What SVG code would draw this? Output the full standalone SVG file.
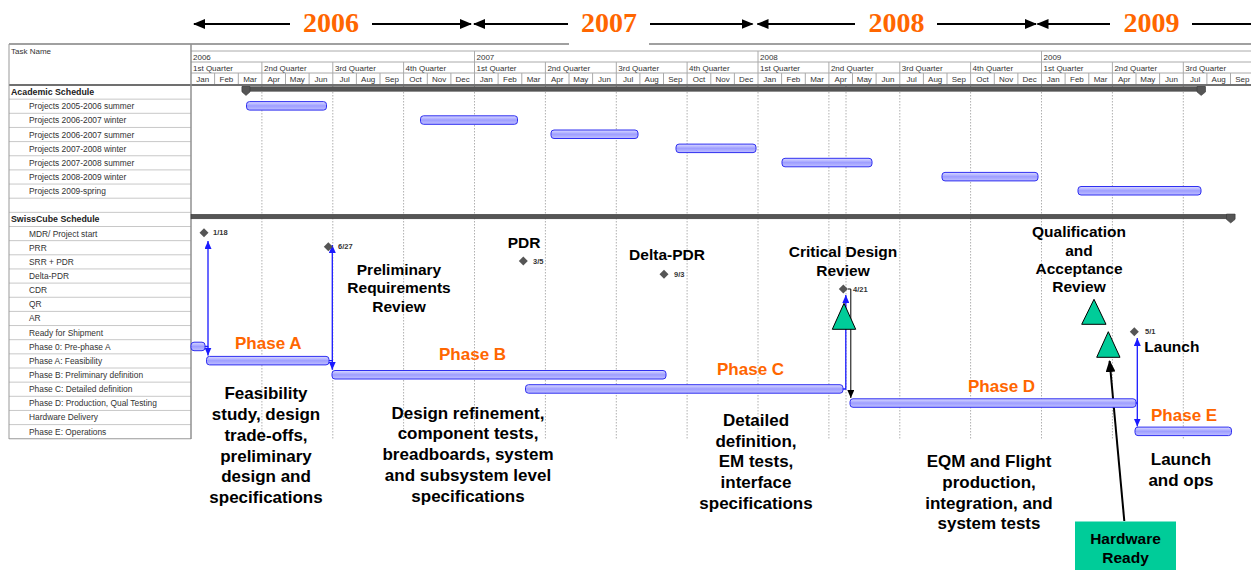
<svg xmlns="http://www.w3.org/2000/svg" width="1251" height="570" viewBox="0 0 1251 570">
<defs>
<linearGradient id="gb" x1="0" y1="0" x2="0" y2="1"><stop offset="0" stop-color="#dcdcff"/><stop offset="0.5" stop-color="#9e9eff"/><stop offset="1" stop-color="#c0c0ff"/></linearGradient>
<marker id="ak" markerUnits="userSpaceOnUse" markerWidth="12" markerHeight="10" refX="11" refY="5" orient="auto"><path d="M0,0 L12,5 L0,10 z" fill="#000"/></marker>
<marker id="ab" markerUnits="userSpaceOnUse" markerWidth="8" markerHeight="7" refX="8" refY="3.5" orient="auto"><path d="M0,0 L8,3.5 L0,7 z" fill="#1a1aff"/></marker>
<marker id="ad" markerUnits="userSpaceOnUse" markerWidth="8" markerHeight="7" refX="8" refY="3.5" orient="auto"><path d="M0,0 L8,3.5 L0,7 z" fill="#000"/></marker>
</defs>
<style>
.yr{font-family:"Liberation Serif","Times New Roman",serif;font-weight:bold;font-size:28px;fill:#FF6600;text-anchor:middle}
.ya{stroke:#000;stroke-width:2;fill:none}
.hd{font-family:"Liberation Sans",Arial,sans-serif;font-size:8px;fill:#333}
.mo{text-anchor:middle}
.tn{font-family:"Liberation Sans",Arial,sans-serif;font-size:8.4px;fill:#333}
.tb{font-weight:bold;font-size:8.8px;fill:#222}
.gl{stroke:#c8c8c8;stroke-width:1;fill:none}
.hl{stroke:#aaa;stroke-width:1;fill:none}
.grid{stroke:#b0b0b0;stroke-width:1;stroke-dasharray:1.5,1.5;fill:none}
.bar{fill:url(#gb);stroke:#2f2ff0;stroke-width:1}
.sum{fill:#555;stroke:#333;stroke-width:0.5}
.ms{fill:#555}
.ml{font-family:"Liberation Sans",Arial,sans-serif;font-weight:bold;font-size:7.5px;fill:#333}
.lnk{stroke:#1a1aff;stroke-width:1.3;fill:none}
.lk{stroke:#000;stroke-width:1;fill:none}
.rv{font-family:"Liberation Sans",Arial,sans-serif;font-weight:bold;font-size:15.5px;fill:#000;text-anchor:middle}
.ph{font-family:"Liberation Sans",Arial,sans-serif;font-weight:bold;font-size:17px;fill:#FF6600}
.ds{font-family:"Liberation Sans",Arial,sans-serif;font-weight:bold;font-size:17px;fill:#000;text-anchor:middle}
.tri{fill:#00CC99;stroke:#000;stroke-width:1}
</style>
<rect width="1251" height="570" fill="#fff"/>

<g id="table">
<path class="gl" d="M9,99.15H191M9,113.3H191M9,127.45H191M9,141.6H191M9,155.75H191M9,169.9H191M9,184.05H191M9,198.2H191M9,212.35H191M9,226.5H191M9,240.65H191M9,254.8H191M9,268.95H191M9,283.1H191M9,297.25H191M9,311.4H191M9,325.55H191M9,339.7H191M9,353.85H191M9,368H191M9,382.15H191M9,396.3H191M9,410.45H191M9,424.6H191"/>
<path d="M9,438.75H191" stroke="#999" stroke-width="1"/>
<path class="grid" d="M261.9,86V439M332.8,86V439M403.6,86V439M474.5,86V439M545.4,86V439M616.3,86V439M687.1,86V439M758,86V439M828.9,86V439M846,86V439M899.8,86V439M970.6,86V439M1041.5,86V439M1112.4,86V439M1183.3,86V439"/>
<path class="hl" d="M191,51H1251M191,62H1251M191,73H1251"/>
<path class="hl" d="M474.5,51V85M758,51V85M1041.5,51V85M261.9,62V85M332.8,62V85M403.6,62V85M545.4,62V85M616.3,62V85M687.1,62V85M828.9,62V85M899.8,62V85M970.6,62V85M1112.4,62V85M1183.3,62V85M214.6,73V85M238.3,73V85M285.5,73V85M309.1,73V85M356.4,73V85M380,73V85M427.3,73V85M450.9,73V85M498.1,73V85M521.8,73V85M569,73V85M592.6,73V85M639.9,73V85M663.5,73V85M710.8,73V85M734.4,73V85M781.6,73V85M805.3,73V85M852.5,73V85M876.1,73V85M923.4,73V85M947,73V85M994.3,73V85M1017.9,73V85M1065.1,73V85M1088.8,73V85M1136,73V85M1159.6,73V85M1206.9,73V85M1230.5,73V85"/>
<path d="M9,44H1251" stroke="#808080" stroke-width="1.3"/>
<path d="M9,85H1251" stroke="#707070" stroke-width="2"/>
<path d="M9,44V439" stroke="#999" stroke-width="1"/>
<path d="M191,44V439" stroke="#909090" stroke-width="1.5"/>
<text class="hd" x="11" y="53.5">Task Name</text>
<text class="hd" x="193" y="60">2006</text>
<text class="hd" x="476.5" y="60">2007</text>
<text class="hd" x="760" y="60">2008</text>
<text class="hd" x="1043.5" y="60">2009</text>
<g class="hd">
<text x="193" y="71">1st Quarter</text><text x="264" y="71">2nd Quarter</text><text x="335" y="71">3rd Quarter</text><text x="405.6" y="71">4th Quarter</text>
<text x="476.5" y="71">1st Quarter</text><text x="547.4" y="71">2nd Quarter</text><text x="618.3" y="71">3rd Quarter</text><text x="689.1" y="71">4th Quarter</text>
<text x="760" y="71">1st Quarter</text><text x="830.9" y="71">2nd Quarter</text><text x="901.8" y="71">3rd Quarter</text><text x="972.6" y="71">4th Quarter</text>
<text x="1043.5" y="71">1st Quarter</text><text x="1114.4" y="71">2nd Quarter</text><text x="1185.3" y="71">3rd Quarter</text>
</g>
<g class="hd mo">
<text x="202.8" y="82">Jan</text><text x="226.4" y="82">Feb</text><text x="250.1" y="82">Mar</text><text x="273.7" y="82">Apr</text><text x="297.3" y="82">May</text><text x="320.9" y="82">Jun</text><text x="344.6" y="82">Jul</text><text x="368.2" y="82">Aug</text><text x="391.8" y="82">Sep</text><text x="415.4" y="82">Oct</text><text x="439.1" y="82">Nov</text><text x="462.7" y="82">Dec</text>
<text x="486.3" y="82">Jan</text><text x="509.9" y="82">Feb</text><text x="533.6" y="82">Mar</text><text x="557.2" y="82">Apr</text><text x="580.8" y="82">May</text><text x="604.4" y="82">Jun</text><text x="628.1" y="82">Jul</text><text x="651.7" y="82">Aug</text><text x="675.3" y="82">Sep</text><text x="698.9" y="82">Oct</text><text x="722.6" y="82">Nov</text><text x="746.2" y="82">Dec</text>
<text x="769.8" y="82">Jan</text><text x="793.4" y="82">Feb</text><text x="817.1" y="82">Mar</text><text x="840.7" y="82">Apr</text><text x="864.3" y="82">May</text><text x="887.9" y="82">Jun</text><text x="911.6" y="82">Jul</text><text x="935.2" y="82">Aug</text><text x="958.8" y="82">Sep</text><text x="982.4" y="82">Oct</text><text x="1006.1" y="82">Nov</text><text x="1029.7" y="82">Dec</text>
<text x="1053.3" y="82">Jan</text><text x="1076.9" y="82">Feb</text><text x="1100.6" y="82">Mar</text><text x="1124.2" y="82">Apr</text><text x="1147.8" y="82">May</text><text x="1171.4" y="82">Jun</text><text x="1195.1" y="82">Jul</text><text x="1218.7" y="82">Aug</text><text x="1242.3" y="82">Sep</text>
</g>
<g class="tn">
<text class="tb" x="11" y="94.5">Academic Schedule</text>
<text x="29" y="109.2">Projects 2005-2006 summer</text>
<text x="29" y="123.3">Projects 2006-2007 winter</text>
<text x="29" y="137.5">Projects 2006-2007 summer</text>
<text x="29" y="151.6">Projects 2007-2008 winter</text>
<text x="29" y="165.8">Projects 2007-2008 summer</text>
<text x="29" y="179.9">Projects 2008-2009 winter</text>
<text x="29" y="194">Projects 2009-spring</text>
<text class="tb" x="11" y="222">SwissCube Schedule</text>
<text x="29" y="236.5">MDR/ Project start</text>
<text x="29" y="250.6">PRR</text>
<text x="29" y="264.8">SRR + PDR</text>
<text x="29" y="279">Delta-PDR</text>
<text x="29" y="293.1">CDR</text>
<text x="29" y="307.2">QR</text>
<text x="29" y="321.4">AR</text>
<text x="29" y="335.5">Ready for Shipment</text>
<text x="29" y="349.7">Phase 0: Pre-phase A</text>
<text x="29" y="363.8">Phase A: Feasibility</text>
<text x="29" y="378">Phase B: Preliminary definition</text>
<text x="29" y="392.1">Phase C: Detailed definition</text>
<text x="29" y="406.3">Phase D: Production, Qual Testing</text>
<text x="29" y="420.4">Hardware Delivery</text>
<text x="29" y="434.6">Phase E: Operations</text>
</g>
</g>

<g id="years">
<rect x="569" y="8" width="80" height="37.5" fill="#fff"/>
<path class="ya" d="M290,24H194" marker-end="url(#ak)"/>
<path class="ya" d="M372,24H471" marker-end="url(#ak)"/>
<path class="ya" d="M568,24H474" marker-end="url(#ak)"/>
<path class="ya" d="M650,24H752.5" marker-end="url(#ak)"/>
<path class="ya" d="M855,24H757.5" marker-end="url(#ak)"/>
<path class="ya" d="M937,24H1036" marker-end="url(#ak)"/>
<path class="ya" d="M1110,24H1037.5" marker-end="url(#ak)"/>
<path class="ya" d="M1192,24H1251"/>
<text class="yr" x="331" y="31.5">2006</text>
<text class="yr" x="609" y="31.5">2007</text>
<text class="yr" x="896.5" y="31.5">2008</text>
<text class="yr" x="1151.5" y="31.5">2009</text>
</g>

<g id="summaries">
<rect class="sum" x="242" y="86.8" width="963" height="4.4"/>
<polygon class="sum" points="242,86.5 250,86.5 250,92 246,95.5 242,92"/>
<polygon class="sum" points="1197,86.5 1205.5,86.5 1205.5,92 1201.2,95.5 1197,92"/>
<rect class="sum" x="191" y="214.3" width="1044" height="4.5"/>
<polygon class="sum" points="1226.5,214 1235,214 1235,219.5 1230.7,223 1226.5,219.5"/>
</g>

<g id="projects">
<rect id="p1" class="bar" x="246.5" y="101.6" width="80" height="8.5" rx="3"/>
<rect id="p2" class="bar" x="420.5" y="115.8" width="97" height="8.5" rx="3"/>
<rect id="p3" class="bar" x="551" y="130" width="87" height="8.5" rx="3"/>
<rect id="p4" class="bar" x="676" y="144.1" width="80" height="8.5" rx="3"/>
<rect id="p5" class="bar" x="782" y="158.3" width="90" height="8.5" rx="3"/>
<rect id="p6" class="bar" x="942" y="172.4" width="96" height="8.5" rx="3"/>
<rect id="p7" class="bar" x="1078" y="186.5" width="123" height="8.5" rx="3"/>
</g>

<g id="connectors">
<path class="lnk" d="M205,346.5H208V241" marker-end="url(#ab)"/>
<path class="lnk" d="M208,346.5V355.5" marker-end="url(#ab)"/>
<path class="lnk" d="M329,360.6H332.3V245" marker-end="url(#ab)"/>
<path class="lnk" d="M332.3,360.6V369.8" marker-end="url(#ab)"/>
<path class="lnk" d="M843,389H845.8V295" marker-end="url(#ab)"/>
<path class="lk" d="M847.8,289H850.8V398" marker-end="url(#ad)"/>
<path class="lnk" d="M1136,403H1137.3V338" marker-end="url(#ab)"/>
<path class="lnk" d="M1137.3,403V426.5" marker-end="url(#ab)"/>
<path d="M1124.3,521L1109.6,361" stroke="#000" stroke-width="2" fill="none" marker-end="url(#ak)"/>
</g>

<g id="phases">
<rect id="ph0" class="bar" x="191" y="342.2" width="14" height="8.5" rx="3"/>
<rect id="phA" class="bar" x="206.5" y="356.4" width="122.5" height="8.5" rx="3"/>
<rect id="phB" class="bar" x="332" y="370.5" width="334" height="8.5" rx="3"/>
<rect id="phC" class="bar" x="525.5" y="384.7" width="317.5" height="8.5" rx="3"/>
<rect id="phD" class="bar" x="850" y="398.8" width="286" height="8.5" rx="3"/>
<rect id="phE" class="bar" x="1135" y="427.1" width="96.5" height="8.5" rx="3"/>
</g>

<g id="milestones">
<polygon class="ms" points="204,228.2 208.5,232.7 204,237.2 199.5,232.7"/>
<text class="ml" x="213" y="235">1/18</text>
<polygon class="ms" points="328.3,242.2 332.8,246.7 328.3,251.2 323.8,246.7"/>
<text class="ml" x="338" y="249.2">6/27</text>
<polygon class="ms" points="523.3,256.5 527.8,261 523.3,265.5 518.8,261"/>
<text class="ml" x="533" y="263.5">3/5</text>
<polygon class="ms" points="664,269.8 668.5,274.3 664,278.8 659.5,274.3"/>
<text class="ml" x="674" y="276.8">9/3</text>
<polygon class="ms" points="843.3,284.5 847.8,289 843.3,293.5 838.8,289"/>
<text class="ml" x="853" y="291.5">4/21</text>
<polygon class="ms" points="1134.3,327.2 1138.8,331.7 1134.3,336.2 1129.8,331.7"/>
<text class="ml" x="1145" y="334">5/1</text>
</g>

<g id="reviews">
<polygon id="tri-cdr" class="tri" points="844,303.3 855.7,329.3 832.3,329.3"/>
<polygon id="tri-qr" class="tri" points="1094,299.3 1106,324.3 1081.7,324.3"/>
<polygon id="tri-ar" class="tri" points="1108.3,331.7 1120,357.3 1096.7,357.3"/>
</g>

<g id="hw-ready">
<rect x="1075" y="521.5" width="101" height="48.5" fill="#00CC99"/>
<text class="rv" x="1125.5" y="543.5">Hardware</text>
<text class="rv" x="1125.5" y="562.5">Ready</text>
</g>

<g id="review-labels" class="rv">
<text x="399" y="274.5">Preliminary</text>
<text x="399" y="293">Requirements</text>
<text x="399" y="311.5">Review</text>
<text x="524" y="248">PDR</text>
<text x="667" y="260">Delta-PDR</text>
<text x="843" y="257">Critical Design</text>
<text x="843" y="275.5">Review</text>
<text x="1079" y="237">Qualification</text>
<text x="1079" y="255.5">and</text>
<text x="1079" y="274">Acceptance</text>
<text x="1079" y="292">Review</text>
<text x="1144.3" y="351.5" text-anchor="start">Launch</text>
</g>

<g id="phase-labels" class="ph">
<text x="235" y="349.3">Phase A</text>
<text x="439" y="360.3">Phase B</text>
<text x="717" y="375">Phase C</text>
<text x="968" y="392">Phase D</text>
<text x="1151" y="421">Phase E</text>
</g>

<g id="descriptions" class="ds">
<text x="266" y="399">Feasibility</text>
<text x="266" y="420">study, design</text>
<text x="266" y="441">trade-offs,</text>
<text x="266" y="462">preliminary</text>
<text x="266" y="482">design and</text>
<text x="266" y="503">specifications</text>
<text x="468" y="418.5">Design refinement,</text>
<text x="468" y="439">component tests,</text>
<text x="468" y="460">breadboards, system</text>
<text x="468" y="481">and subsystem level</text>
<text x="468" y="502">specifications</text>
<text x="756" y="426">Detailed</text>
<text x="756" y="447">definition,</text>
<text x="756" y="467">EM tests,</text>
<text x="756" y="488">interface</text>
<text x="756" y="509">specifications</text>
<text x="989" y="467">EQM and Flight</text>
<text x="989" y="488">production,</text>
<text x="989" y="508.5">integration, and</text>
<text x="989" y="529">system tests</text>
<text x="1181" y="465">Launch</text>
<text x="1181" y="486">and ops</text>
</g>
</svg>
